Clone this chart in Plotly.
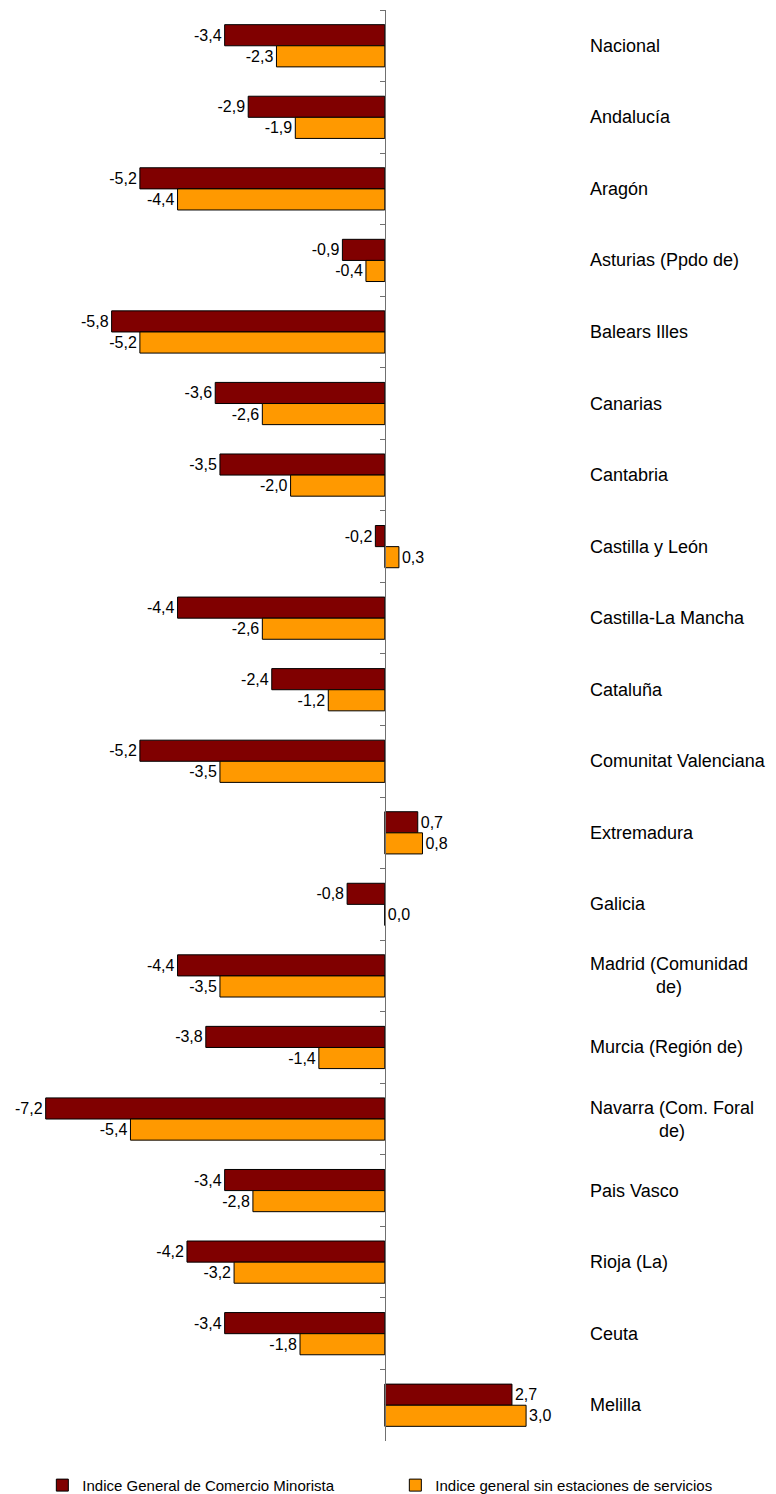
import plotly.graph_objects as go

categories = ["Nacional", "Andalucía", "Aragón", "Asturias (Ppdo de)", "Balears Illes",
              "Canarias", "Cantabria", "Castilla y León", "Castilla-La Mancha", "Cataluña",
              "Comunitat Valenciana", "Extremadura", "Galicia", "Madrid (Comunidad<br>de)",
              "Murcia (Región de)", "Navarra (Com. Foral<br>de)", "Pais Vasco", "Rioja (La)",
              "Ceuta", "Melilla"]
general = [-3.4, -2.9, -5.2, -0.9, -5.8, -3.6, -3.5, -0.2, -4.4, -2.4,
           -5.2, 0.7, -0.8, -4.4, -3.8, -7.2, -3.4, -4.2, -3.4, 2.7]
sin_servicios = [-2.3, -1.9, -4.4, -0.4, -5.2, -2.6, -2.0, 0.3, -2.6, -1.2,
                 -3.5, 0.8, 0.0, -3.5, -1.4, -5.4, -2.8, -3.2, -1.8, 3.0]
series_names = ["Indice General de Comercio Minorista", "Indice general sin estaciones de servicios"]
colors = ["#800000", "#FF9900"]

def fmt(v):
    return f"{v:.1f}".replace(".", ",")

FONT = "Liberation Sans, Arial, sans-serif"

fig = go.Figure()
for name, vals, col in zip(series_names, [general, sin_servicios], colors):
    fig.add_trace(go.Bar(
        y=categories, x=vals, orientation="h", name=name,
        marker=dict(color=col, line=dict(color="black", width=1)),
        text=[fmt(v) for v in vals], textposition="outside",
        textfont=dict(size=16, color="black", family=FONT),
        cliponaxis=False,
    ))

annotations = []
for c in categories:
    annotations.append(dict(
        x=0.760, xref="paper", y=c, yref="y", text=c, showarrow=False,
        xanchor="left", yanchor="middle", align="center",
        font=dict(size=18, color="black", family=FONT),
    ))

fig.update_layout(
    width=776, height=1494,
    margin=dict(l=8, r=5, t=10, b=53, autoexpand=False),
    paper_bgcolor="white", plot_bgcolor="white",
    barmode="group", bargap=0.41, bargroupgap=0,
    font=dict(family=FONT, color="black"),
    xaxis=dict(range=[-8, 8.2], visible=False, showgrid=False, zeroline=False),
    yaxis=dict(categoryorder="array", categoryarray=categories,
               range=[len(categories) - 0.5, -0.5],
               showticklabels=False, showgrid=False, zeroline=False,
               showline=True, linecolor="#707070", linewidth=1,
               ticks="outside", ticklen=5, tickcolor="#707070", tickson="boundaries",
               anchor="free", position=(385 - 8) / 763),
    legend=dict(orientation="h", x=0.045, xanchor="left", y=-0.031, yanchor="middle",
                font=dict(size=15, family=FONT), entrywidth=308, entrywidthmode="pixels",
                itemwidth=30, traceorder="normal"),
    annotations=annotations,
    showlegend=True,
)

fig.write_html("out.html", config={"displayModeBar": False},
               post_script="document.body.style.margin='0';")
